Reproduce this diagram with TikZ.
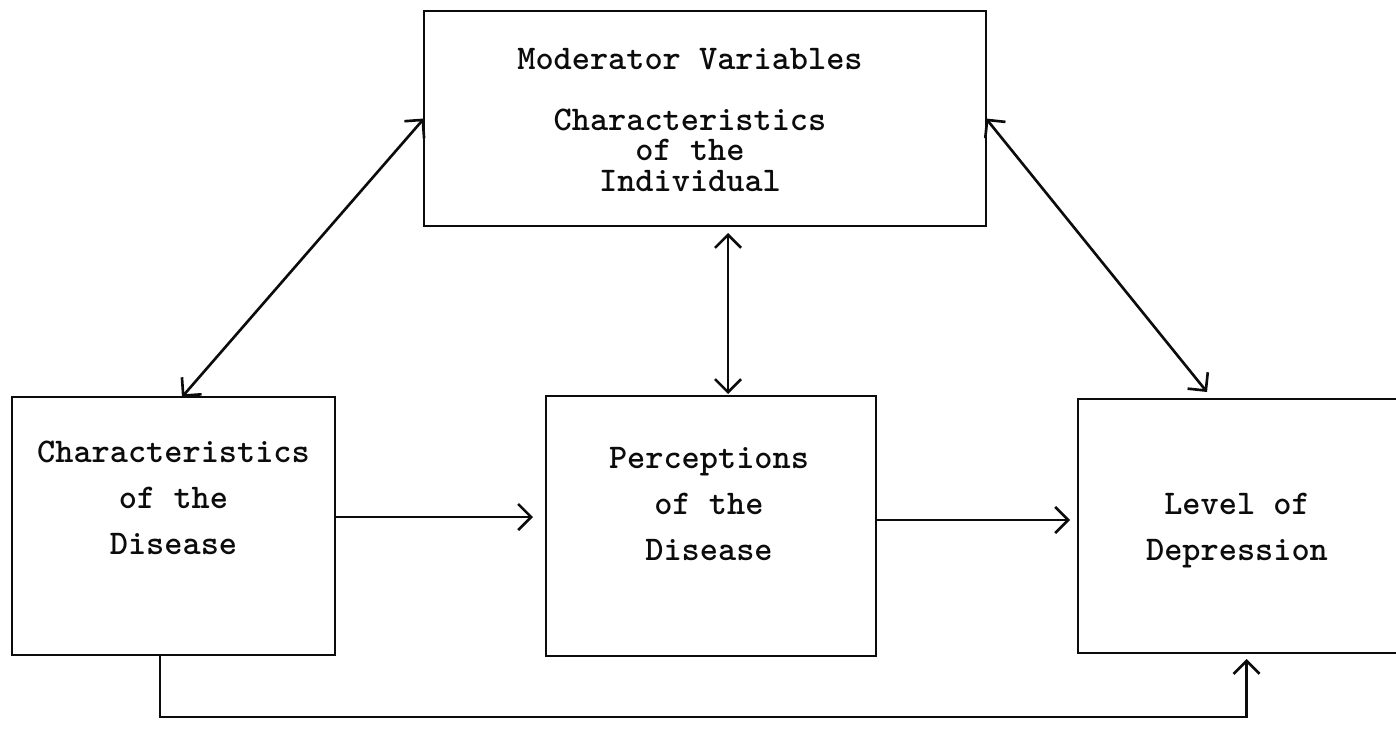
\documentclass[tikz,border=0pt]{standalone}
\usepackage{fontspec}
\usepackage{tikz}
\usetikzlibrary{arrows.meta,positioning}
\definecolor{ink}{RGB}{12,12,12}
\tikzset{
  box/.style={draw=ink,line width=1.5pt,inner sep=0pt,outer sep=0pt},
  boxtext/.style={font=\ttfamily\bfseries\fontsize{19.7}{26.2}\selectfont,align=center,text=ink,inner sep=0pt},
  modtext/.style={boxtext,font=\ttfamily\bfseries\fontsize{19.7}{17.5}\selectfont},
  flow/.style={draw=ink,line width=1.5pt,-{Straight Barb[length=2.6mm,width=5.2mm]}},
  link/.style={flow,{Straight Barb[length=2.6mm,width=5.2mm]}-{Straight Barb[length=2.6mm,width=5.2mm]}}
}

\begin{document}
\begin{tikzpicture}
  \useasboundingbox (0,0) rectangle (27.92,-14.74);
  \node[box,minimum width=6.46cm,minimum height=5.16cm] (dis) at (3.47,-10.52) {};
  \node[box,minimum width=6.6cm,minimum height=5.2cm,right=4.22cm of dis] (per) {};
  \node[box,minimum width=6.5cm,minimum height=5.08cm,right=4.04cm of per] (dep) {};
  \node[box,minimum width=11.24cm,minimum height=4.3cm,above=3.4cm of per,xshift=-0.12cm] (mod) {};
  \node[boxtext,below=0.88cm of dis.north] (dis-t) {Characteristics\\of the\\Disease};
  \node[boxtext,below=1.02cm of per.north,xshift=-0.04cm] (per-t) {Perceptions\\of the\\Disease};
  \node[boxtext,below=1.88cm of dep.north,xshift=-0.07cm] (dep-t) {Level of\\Depression};
  \node[modtext,below=0.74cm of mod.north,xshift=-0.3cm] (mod-t) {Moderator Variables\\[17pt]Characteristics\\of the\\Individual};
  \coordinate (vlink) at ([xshift=0.34cm]per.north);
  \coordinate (ab) at ([yshift=0.18cm]dis.east);
  \coordinate (bc) at ([yshift=0.12cm]per.east);
  \coordinate (loop) at ([xshift=-0.27cm]dis.south);
  \draw[link] ([xshift=0.17cm]dis.north) -- (mod.west);
  \draw[link] ([shift={(2.58cm,0.14cm)}]dep.north west) -- (mod.east);
  \draw[link,shorten <=0.04cm,shorten >=0.14cm] (vlink) -- (vlink |- mod.south);
  \draw[flow,shorten >=0.26cm] (ab) -- (ab -| per.west);
  \draw[flow,shorten >=0.16cm] (bc) -- (bc -| dep.west);
  \draw[flow,shorten >=0.12cm] (loop) -- ++(0,-1.24) -| ([xshift=0.12cm]dep.south);
\end{tikzpicture}
\end{document}
